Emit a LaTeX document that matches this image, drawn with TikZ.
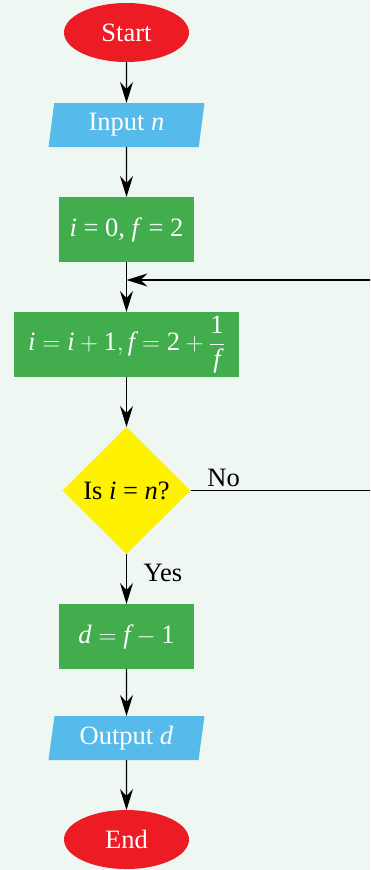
\documentclass[tikz,border=0pt]{standalone}
\usepackage{amsmath}
\usepackage{fontspec}
\setmainfont{Liberation Serif}
\usepackage{xcolor}
\usetikzlibrary{arrows.meta,positioning,shapes.geometric}

\definecolor{bgmint}{RGB}{239,247,243}
\definecolor{termred}{RGB}{237,28,36}
\definecolor{ioblue}{RGB}{86,187,234}
\definecolor{procgreen}{RGB}{66,173,76}
\definecolor{decyellow}{RGB}{255,242,0}

\newcommand{\vi}[1]{\textit{#1}}

\begin{document}
\begin{tikzpicture}[
  x=1pt, y=1pt,
  node distance=50pt,
  font=\fontsize{26.5}{30}\selectfont,
  term/.style={ellipse, fill=termred, text=white, minimum width=125pt,
               minimum height=59pt, inner sep=0pt, outer sep=0pt},
  io/.style={trapezium, trapezium left angle=76, trapezium right angle=104,
             trapezium stretches body, fill=ioblue, text=white,
             minimum width=156pt, minimum height=44pt, inner sep=0pt, outer sep=0pt},
  proc/.style={rectangle, fill=procgreen, text=white, minimum width=135pt,
               minimum height=65pt, inner sep=0pt, outer sep=0pt},
  dec/.style={diamond, aspect=1, fill=decyellow, minimum width=128pt,
              minimum height=127pt, inner sep=0pt, outer sep=0pt},
  flow/.style={-{Stealth[length=21pt, width=13pt, inset=7pt]}, line width=1.4pt},
  lbl/.style={text=black}
]
\fill[bgmint] (0,0) rectangle (370,-870);
\clip (0,0) rectangle (370,-870);

\node[term] (start) at (126.5,-32.5) {Start};
\node[io, below=41pt of start] (inp) {Input \vi{n}};
\node[proc, below=of inp] (init) {\vi{i} = 0, \vi{f} = 2};
\node[proc, below=of init, minimum width=225pt] (step)
  {$\vi{i} = \vi{i} + \text{1}, \vi{f} = \text{2} + \dfrac{\text{1}}{\vi{f}}$};
\node[dec, below=of step] (test) {Is \vi{i} = \vi{n}?};
\node[proc, below=of test] (calc) {$\vi{d} = \vi{f} - \text{1}$};
\node[io, below=47pt of calc] (outp) {Output \vi{d}};
\node[term, below=of outp] (stop) {End};

\coordinate (loopc) at (385,-280);

\draw[flow] (start) -- (inp);
\draw[flow] (inp) -- (init);
\draw[flow] (init) -- (step);
\draw[flow] (step) -- (test);
\draw[flow] (test) -- node[lbl, right, pos=0.38, xshift=13pt]{Yes} (calc);
\draw[flow] (calc) -- (outp);
\draw[flow] (outp) -- (stop);
\draw[flow] (test.east) -- node[lbl, above, pos=0.17]{No} (loopc |- test.east)
  -- (loopc) -- (loopc -| step.north);
\end{tikzpicture}
\end{document}
